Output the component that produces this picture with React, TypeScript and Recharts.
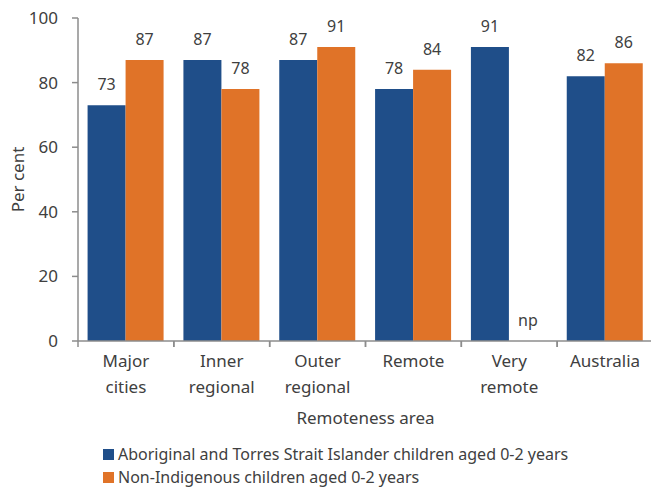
import React from 'react'
import { BarChart, Bar, XAxis, YAxis, LabelList } from 'recharts'

const categories = ['Major cities', 'Inner regional', 'Outer regional', 'Remote', 'Very remote', 'Australia']
const categoryLines = [['Major', 'cities'], ['Inner', 'regional'], ['Outer', 'regional'], ['Remote'], ['Very', 'remote'], ['Australia']]
const indigenous = [73, 87, 87, 78, 91, 82]
const nonIndigenous: (number | null)[] = [87, 78, 91, 84, null, 86]
const yTicks = [0, 20, 40, 60, 80, 100]

const BLUE = '#1F4E89'
const ORANGE = '#E07328'
const AXIS = '#8C8C8C'
const TEXT = '#404040'
const FONT = '"Noto Sans", "Open Sans", sans-serif'

const CHART_W = 655
const MARGIN = { top: 18, right: 2, bottom: 0, left: 0 }
const Y_AXIS_W = 78
const BAND = (CHART_W - MARGIN.left - MARGIN.right - Y_AXIS_W) / categories.length

const data = categories.map((c, i) => ({
  name: c,
  indigenous: indigenous[i],
  nonIndigenous: nonIndigenous[i],
}))

function CategoryTick({ x, y, payload }: { x?: number; y?: number; payload?: { value: string } }) {
  const cx = x ?? 0
  const ty = y ?? 0
  const lines = categoryLines[categories.indexOf(payload?.value ?? '')] ?? [payload?.value]
  return (
    <g>
      <line x1={cx - BAND / 2} x2={cx - BAND / 2} y1={ty - 8} y2={ty - 2} stroke={AXIS} strokeWidth={1.5} />
      <line x1={cx + BAND / 2} x2={cx + BAND / 2} y1={ty - 8} y2={ty - 2} stroke={AXIS} strokeWidth={1.5} />
      <text x={cx} y={ty + 18} textAnchor="middle" fill={TEXT} fontSize={17} fontFamily={FONT}>
        {lines.map((l, i) => (
          <tspan key={i} x={cx} dy={i === 0 ? 0 : 26}>{l}</tspan>
        ))}
      </text>
    </g>
  )
}

function ValueLabel(props: any) {
  const { x, y, width, height, value, index } = props
  const cx = Number(x) + Number(width) / 2
  const base = Number(y) + Number(height)
  return (
    <g>
      <text x={cx} y={Number(y) - 15} textAnchor="middle" fill={TEXT} fontSize={16} fontFamily={FONT}>
        {String(value)}
      </text>
      {props.pairNull && nonIndigenous[index] == null ? (
        <text x={cx + Number(width)} y={base - 15} textAnchor="middle" fill={TEXT} fontSize={16} fontFamily={FONT}>np</text>
      ) : null}
    </g>
  )
}

function LegendBox() {
  const items = [
    { label: 'Aboriginal and Torres Strait Islander children aged 0-2 years', color: BLUE },
    { label: 'Non-Indigenous children aged 0-2 years', color: ORANGE },
  ]
  return (
    <div style={{ position: 'absolute', left: 103, top: 446, fontFamily: FONT, fontSize: 16, color: TEXT }}>
      {items.map(it => (
        <div key={it.label} style={{ display: 'flex', alignItems: 'center', height: 16, marginBottom: 7, lineHeight: '16px' }}>
          <span style={{ width: 11, height: 11, background: it.color, marginRight: 4, flexShrink: 0 }} />
          <span style={{ whiteSpace: 'nowrap' }}>{it.label}</span>
        </div>
      ))}
    </div>
  )
}

export default function App() {
  return (
    <div style={{ position: 'absolute', left: 0, top: 0, width: 651, height: 488, overflow: 'hidden', background: '#fff' }}>
      <BarChart
        width={CHART_W}
        height={440}
        data={data}
        margin={MARGIN}
        barCategoryGap="10%"
        barGap={0}
      >
        <XAxis
          dataKey="name"
          tick={<CategoryTick />}
          interval={0}
          axisLine={{ stroke: AXIS, strokeWidth: 1.5 }}
          tickLine={false}
          height={99}
          label={{ value: 'Remoteness area', position: 'insideBottom', offset: 16, fill: TEXT, fontSize: 17, fontFamily: FONT }}
        />
        <YAxis
          domain={[0, 100]}
          ticks={yTicks}
          width={Y_AXIS_W}
          tick={{ fill: TEXT, fontSize: 17, fontFamily: FONT }}
          axisLine={{ stroke: AXIS, strokeWidth: 1.5 }}
          tickLine={{ stroke: AXIS, strokeWidth: 1.5 }}
          tickSize={6}
          tickMargin={14}
          label={{ value: 'Per cent', angle: -90, position: 'insideLeft', offset: 18, fill: TEXT, fontSize: 17, fontFamily: FONT, style: { textAnchor: 'middle' } }}
        />
        <Bar dataKey="indigenous" fill={BLUE} isAnimationActive={false}>
          <LabelList dataKey="indigenous" content={<ValueLabel pairNull />} />
        </Bar>
        <Bar dataKey="nonIndigenous" fill={ORANGE} isAnimationActive={false}>
          <LabelList dataKey="nonIndigenous" content={<ValueLabel />} />
        </Bar>
      </BarChart>
      <LegendBox />
    </div>
  )
}
